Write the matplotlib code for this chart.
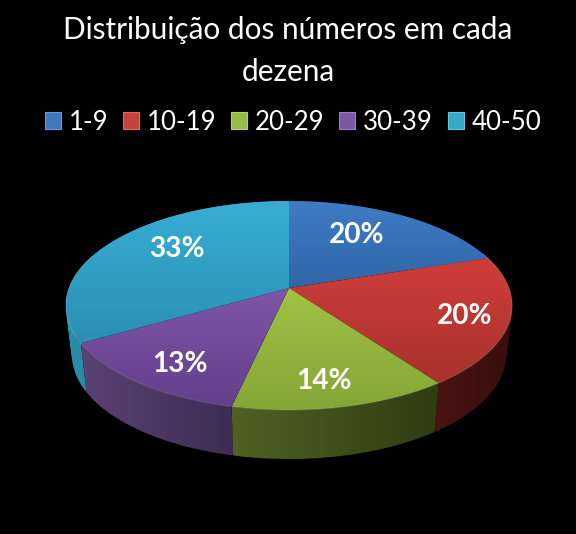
import numpy as np
import matplotlib
matplotlib.use("Agg")
import matplotlib.pyplot as plt
from matplotlib.path import Path
from matplotlib.patches import Patch, PathPatch
from matplotlib.colors import LinearSegmentedColormap

plt.rcParams['font.family'] = ['Lato', 'DejaVu Sans']

title_lines = ["Distribuição dos números em cada", "dezena"]
categories = ["1-9", "10-19", "20-29", "30-39", "40-50"]
values = [20, 20, 13.5, 13.2, 33.3]
pct_labels = ["20%", "20%", "14%", "13%", "33%"]

# colours: top of slice (light, dark), wall (left, right)
top_light = ["#3f7cc4", "#cf3d39", "#a0c244", "#7f56a8", "#38aed6"]
top_dark = ["#2f66a6", "#a8322e", "#84a636", "#633f8c", "#2a8fb2"]
wall_left = ["#1d3f68", "#4a1412", "#4f6222", "#5a4274", "#2a8ea8"]
wall_right = ["#1d3f68", "#380e0c", "#2f3d12", "#3f2c55", "#1f7a94"]
legend_col = ["#3f78bd", "#c9403c", "#9aba48", "#7a58a4", "#36a8c8"]
legend_edge = ["#6a9ad6", "#de6a66", "#b8d070", "#9a7cc0", "#66c4de"]
label_xy = [(357, 235), (465, 316), (324, 381), (180, 364), (177, 249)]

# fake 3d view, disc coordinates -> pixels
cx, tip_y, rad = 289, 288, 220
a, c = -53.3, 0.1675
depth = 49


def top_rim(theta):
    u, v = np.sin(theta), np.cos(theta)
    w = 1 + c * v
    return cx + rad * u / w, (a * v + tip_y) / w


def bottom_rim(theta):
    x, y = top_rim(theta)
    return cx + (x - cx) * 0.973, y + depth


def grad_fill(ax, path, c1, c2, horizontal=False, z=2):
    clip = PathPatch(path, transform=ax.transData, fill=False, lw=0)
    ax.add_patch(clip)
    cmap = LinearSegmentedColormap.from_list("g", [c1, c2])
    ramp = np.linspace(0, 1, 128)
    ramp = ramp[None, :] if horizontal else ramp[:, None]
    box = path.get_extents()
    im = ax.imshow(ramp, cmap=cmap, aspect="auto", vmin=0, vmax=1,
                   extent=(box.x0, box.x1, box.y1, box.y0),
                   interpolation="bilinear", zorder=z)
    im.set_clip_path(clip)


fig = plt.figure(figsize=(5.76, 5.34), dpi=100, facecolor="black")
ax = fig.add_axes([0, 0, 1, 1])
ax.set_facecolor("black")
ax.axis("off")

edges = np.radians(np.concatenate([[0], np.cumsum(values)]) * 360 / sum(values))

# walls: union of small quads so the side silhouette stays filled
for i in np.argsort(-np.cos((edges[:-1] + edges[1:]) / 2)):
    th = np.linspace(edges[i], edges[i + 1], 160)
    x1, y1 = top_rim(th)
    x2, y2 = bottom_rim(th)
    quads = []
    for j in range(len(th) - 1):
        q = np.array([(x1[j], y1[j]), (x1[j + 1], y1[j + 1]),
                      (x2[j + 1], y2[j + 1]), (x2[j], y2[j]), (x1[j], y1[j])])
        # same winding for every quad, else the overlaps cancel
        area = np.sum(q[:-1, 0] * q[1:, 1] - q[1:, 0] * q[:-1, 1])
        quads.append(Path(q if area > 0 else q[::-1]))
    grad_fill(ax, Path.make_compound_path(*quads), wall_left[i], wall_right[i],
              horizontal=True, z=1)

# slice tops
for i in range(len(values)):
    th = np.linspace(edges[i], edges[i + 1], 120)
    x1, y1 = top_rim(th)
    xs = np.concatenate([[cx], x1, [cx]])
    ys = np.concatenate([[tip_y], y1, [tip_y]])
    grad_fill(ax, Path(np.column_stack([xs, ys])), top_light[i], top_dark[i])
    # thin light rim on the front only
    front = np.cos(th) < 0.35
    ax.plot(x1[front], y1[front], color="white", alpha=0.16, lw=0.8, zorder=3)

for xy, s in zip(label_xy, pct_labels):
    ax.text(xy[0], xy[1], s, color="white", fontsize=20.2, fontweight="bold",
            ha="center", va="center", zorder=5)

ax.set_xlim(0, 576)
ax.set_ylim(534, 0)

ax.text(288, 30, title_lines[0], color="white", fontsize=21.4, ha="center", va="center")
ax.text(288, 72, title_lines[1], color="white", fontsize=21.4, ha="center", va="center")

handles = [Patch(facecolor=f, edgecolor=e, lw=0.8) for f, e in zip(legend_col, legend_edge)]
ax.legend(handles, categories, ncol=5, loc="center", bbox_to_anchor=(0.509, 0.771),
          frameon=False, labelcolor="white", fontsize=18.6, handlelength=0.62,
          handleheight=0.62, handletextpad=0.31, columnspacing=0.56,
          borderpad=0, borderaxespad=0)

fig.savefig("out.png", dpi=100, facecolor="black")
plt.close()
